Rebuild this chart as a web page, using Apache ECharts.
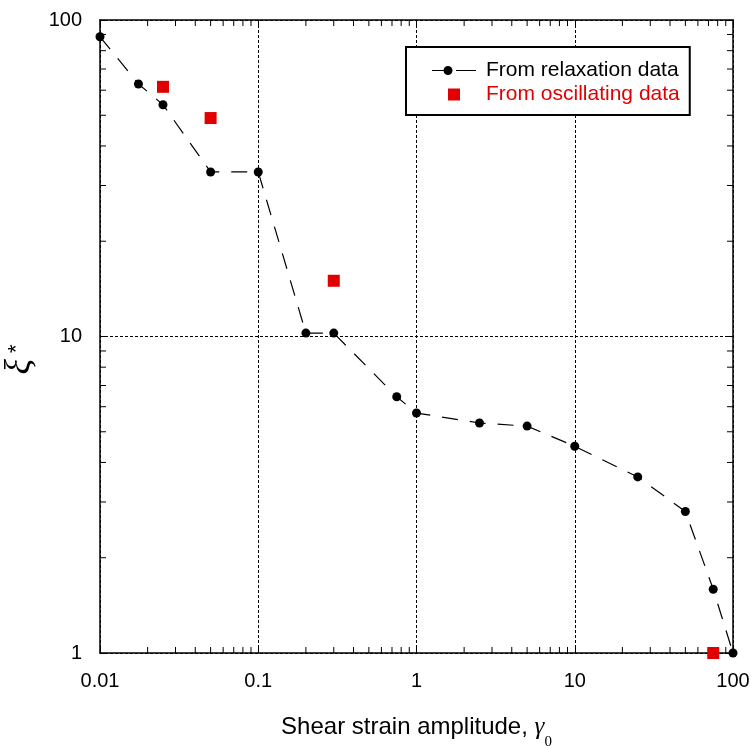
<!DOCTYPE html>
<html>
<head>
<meta charset="utf-8">
<script src="https://cdn.jsdelivr.net/npm/echarts@6/dist/echarts.min.js"></script>
<style>
  html, body { margin: 0; padding: 0; background: #fff; }
  #chart { width: 751px; height: 746px; }
</style>
</head>
<body>
<div id="chart"></div>
<script>
// Shear strain amplitude (x) and normalised parameter xi* (y)
const relaxStrain = [0.01, 0.0175, 0.025, 0.05, 0.1, 0.2, 0.3, 0.75, 1, 2.5, 5, 10, 25, 50, 75, 100];
const relaxXi     = [88.5, 62.8, 54.0, 33.1, 33.1, 10.25, 10.25, 6.45, 5.73, 5.33, 5.21, 4.5, 3.6, 2.8, 1.59, 1.0];

const oscStrain = [0.025, 0.05, 0.3, 75];
const oscXi     = [61.5, 49.0, 15.0, 1.0];

const xTickLabels = ['0.01', '0.1', '1', '10', '100'];
const yTickLabels = ['1', '10', '100'];
const xDecades = [0.01, 0.1, 1, 10];
const yDecades = [1, 10];

const seriesNames = ['From relaxation data', 'From oscillating data'];

// minor tick positions 2..9 within each decade
function minorTicks(decades) {
  const out = [];
  decades.forEach(d => { for (let k = 2; k <= 9; k++) out.push(+(d * k).toPrecision(6)); });
  return out;
}
const xMinor = minorTicks(xDecades);
const yMinor = minorTicks(yDecades);

const X_MIN = 0.01, X_MAX = 100, Y_MIN = 1, Y_MAX = 100;
const MINOR_LEN = 6;
const FONT = '"Liberation Sans", Arial, sans-serif';
const SERIF = '"Liberation Serif", "Times New Roman", serif';
const RED = '#e00000';

// legend glyph: line, dot, short gap, dash
const DASH_DOT_ICON = 'path://M0,5.4L19,5.4L19,6.6L0,6.6Z' +
  'M24,5.4L44,5.4L44,6.6L24,6.6Z' +
  'M11.5,6A4.5,4.5,0,1,1,20.5,6A4.5,4.5,0,1,1,11.5,6Z';
const SQUARE_ICON = 'path://M0,0L10,0L10,10L0,10Z';

const chart = echarts.init(document.getElementById('chart'), null, { renderer: 'canvas' });

const tickStyle = { stroke: '#000', lineWidth: 1 };

const baseAxis = {
  type: 'log',
  logBase: 10,
  axisLine: { show: true, lineStyle: { color: '#000', width: 1.5 } },
  axisTick: { show: true, inside: true, length: 8, lineStyle: { color: '#000', width: 1 } },
  minorTick: { show: false },
  splitLine: { show: false }
};

chart.setOption({
  animation: false,
  backgroundColor: '#fff',
  grid: { left: 100, right: 18, top: 20, bottom: 93, containLabel: false, outerBoundsMode: 'none' },
  xAxis: [
    Object.assign({}, baseAxis, {
      position: 'bottom', min: X_MIN, max: X_MAX,
      axisLabel: {
        margin: 18, fontSize: 20, color: '#000', fontFamily: FONT,
        formatter: (v, i) => xTickLabels[i]
      },
      splitLine: { show: true, lineStyle: { color: '#000', width: 1, type: [3, 2] } },
      name: '{n|Shear strain amplitude, }{g|γ}{s|0}',
      nameLocation: 'middle',
      nameGap: 52,
      nameTextStyle: {
        rich: {
          n: { fontSize: 24, fontFamily: FONT, color: '#000' },
          g: { fontSize: 25, fontFamily: SERIF, fontStyle: 'italic', color: '#000' },
          s: { fontSize: 15, fontFamily: SERIF, color: '#000', padding: [30, 0, 0, 0] }
        }
      }
    }),
    Object.assign({}, baseAxis, {
      position: 'top', min: X_MIN, max: X_MAX,
      axisLabel: { show: false }
    })
  ],
  yAxis: [
    Object.assign({}, baseAxis, {
      position: 'left', min: Y_MIN, max: Y_MAX,
      axisLabel: {
        margin: 18, fontSize: 20, color: '#000', fontFamily: FONT,
        formatter: (v, i) => yTickLabels[i]
      },
      splitLine: { show: true, lineStyle: { color: '#000', width: 1, type: [3, 2] } },
      name: '{x|ξ}{a|*}',
      nameLocation: 'middle',
      nameGap: 47,
      nameRotate: 90,
      nameTextStyle: {
        rich: {
          x: { fontSize: 36, fontFamily: SERIF, fontStyle: 'italic', color: '#000' },
          a: { fontSize: 22, fontFamily: FONT, color: '#000', padding: [0, 46, 6, 6] }
        }
      }
    }),
    Object.assign({}, baseAxis, {
      position: 'right', min: Y_MIN, max: Y_MAX,
      axisLabel: { show: false }
    })
  ],
  legend: {
    orient: 'vertical',
    left: 406, top: 47,
    padding: [13, 10, 10, 26],
    backgroundColor: '#fff',
    borderColor: '#000',
    borderWidth: 2,
    borderRadius: 0,
    itemWidth: 44,
    itemHeight: 12,
    itemGap: 3,
    textStyle: { fontSize: 21, fontFamily: FONT, color: '#000', lineHeight: 21, padding: [0, 0, 0, 5] },
    data: [
      { name: seriesNames[0], icon: DASH_DOT_ICON, itemStyle: { color: '#000' } },
      {
        name: seriesNames[1],
        icon: SQUARE_ICON,
        itemStyle: { color: RED, opacity: 1 },
        textStyle: { color: RED }
      }
    ]
  },
  series: [
    {
      name: 'xMinorTicks',
      type: 'custom',
      xAxisIndex: 0, yAxisIndex: 0,
      clip: false, silent: true, z: 5,
      data: xMinor.map(v => [v, Y_MIN]),
      renderItem: (params, api) => {
        const v = api.value(0);
        const b = api.coord([v, Y_MIN]);
        const t = api.coord([v, Y_MAX]);
        return {
          type: 'group',
          children: [
            { type: 'line', shape: { x1: b[0], y1: b[1], x2: b[0], y2: b[1] - MINOR_LEN }, style: tickStyle },
            { type: 'line', shape: { x1: t[0], y1: t[1], x2: t[0], y2: t[1] + MINOR_LEN }, style: tickStyle }
          ]
        };
      }
    },
    {
      name: 'yMinorTicks',
      type: 'custom',
      xAxisIndex: 0, yAxisIndex: 0,
      clip: false, silent: true, z: 5,
      data: yMinor.map(v => [X_MIN, v]),
      renderItem: (params, api) => {
        const v = api.value(1);
        const l = api.coord([X_MIN, v]);
        const r = api.coord([X_MAX, v]);
        return {
          type: 'group',
          children: [
            { type: 'line', shape: { x1: l[0], y1: l[1], x2: l[0] + MINOR_LEN, y2: l[1] }, style: tickStyle },
            { type: 'line', shape: { x1: r[0], y1: r[1], x2: r[0] - MINOR_LEN, y2: r[1] }, style: tickStyle }
          ]
        };
      }
    },
    {
      name: seriesNames[0],
      type: 'line',
      xAxisIndex: 0, yAxisIndex: 0,
      clip: false,
      data: relaxStrain.map((x, i) => [x, relaxXi[i]]),
      symbol: 'circle',
      symbolSize: 9,
      itemStyle: { color: '#000' },
      lineStyle: { color: '#000', width: 1.2, type: [16, 12] },
      z: 10
    },
    {
      name: seriesNames[1],
      type: 'scatter',
      xAxisIndex: 0, yAxisIndex: 0,
      clip: false,
      data: oscStrain.map((x, i) => [x, oscXi[i]]),
      symbol: 'rect',
      symbolSize: 12,
      itemStyle: { color: RED, opacity: 1 },
      z: 11
    }
  ]
});
</script>
</body>
</html>
